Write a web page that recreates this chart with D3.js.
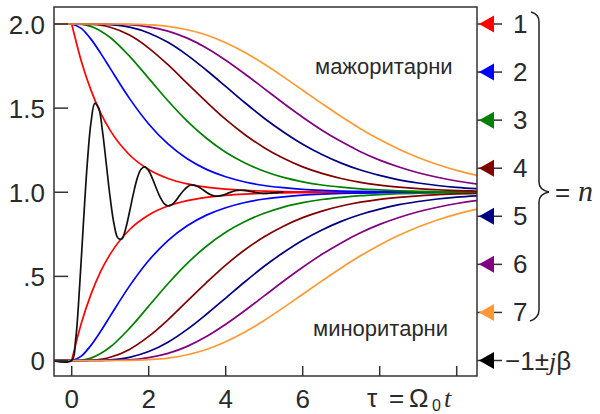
<!DOCTYPE html>
<html lang="bg">
<head>
<meta charset="UTF-8">
<title>majorants</title>
<script src="https://d3js.org/d3.v7.min.js"></script>
<style>
  body { margin: 0; background: white; }
  svg { display: block; font-family: "Liberation Sans", Arial, sans-serif; }
  .curve { fill: none; stroke-width: 1.7px; stroke-linejoin: round; }
  .frame { fill: none; stroke: #333; stroke-width: 1.5px; }
  .tick { stroke: #333; stroke-width: 1.5px; }
  .lbl { fill: #2a2a2a; font-size: 26px; }
  .word { fill: #2a2a2a; font-size: 22px; }
  .it { font-family: "Liberation Serif", "Times New Roman", serif; font-style: italic; }
</style>
</head>
<body>
<svg id="svg" width="600" height="414"></svg>
<script>
// distance of each majorant from 1 (minorant = 1 - value)
const tau = [0, 0.25, 0.5, 0.75, 1, 1.5, 2, 2.5, 3, 3.5, 4, 4.5, 5, 5.5, 6, 6.5, 7, 7.5, 8, 8.5, 9, 9.5, 10, 10.5, 11];
const dev1 = [1, .779, .607, .472, .368, .223, .135, .082, .050, .030, .018, .011, .007, .004, .0025, .0015, .0009, .0006, .0003, .0002, .0001, .0001, 0, 0, 0];
const dev2 = [1, .974, .910, .827, .736, .558, .406, .287, .199, .136, .092, .061, .040, .027, .017, .011, .007, .005, .003, .002, .001, .001, .0005, .0003, .0002];
const dev3 = [1, .998, .986, .959, .920, .809, .677, .544, .423, .321, .238, .174, .125, .088, .062, .043, .030, .020, .014, .009, .006, .004, .003, .002, .001];
const dev4 = [1, 1, .998, .993, .981, .934, .857, .758, .647, .537, .433, .342, .265, .202, .151, .112, .082, .059, .042, .030, .021, .015, .010, .007, .005];
const dev5 = [1, 1, 1, .999, .996, .981, .947, .891, .815, .725, .629, .532, .440, .358, .285, .224, .173, .132, .100, .074, .055, .040, .029, .021, .015];
const dev6 = [1, 1, 1, 1, .999, .996, .983, .958, .916, .858, .785, .703, .616, .529, .446, .369, .301, .241, .191, .150, .116, .089, .067, .050, .038];
const dev7 = [1, 1, 1, 1, 1, .999, .995, .986, .966, .935, .889, .831, .762, .686, .606, .527, .450, .378, .313, .256, .207, .165, .130, .102, .079];
const devs = [dev1, dev2, dev3, dev4, dev5, dev6, dev7];
const colors = ["#ff0000", "#0000ff", "#008000", "#800000", "#000080", "#800080", "#ff9933"];
const legendLabels = ["1", "2", "3", "4", "5", "6", "7"];

// step response for poles -1 ± jβ
const tauB = [-0.5, 0, 0.1, 0.2, 0.3, 0.4, 0.5, 0.6, 0.7, 0.8, 0.9, 1.0, 1.1, 1.2, 1.3, 1.4, 1.5, 1.6, 1.7, 1.8, 1.9, 2.0,
  2.1, 2.2, 2.3, 2.4, 2.5, 2.6, 2.7, 2.8, 2.9, 3.0, 3.1, 3.2, 3.3, 3.4, 3.5, 3.6, 3.7, 3.8, 3.9, 4.0,
  4.1, 4.2, 4.3, 4.4, 4.5, 4.6, 4.7, 4.8, 4.9, 5.0, 5.1, 5.2, 5.3, 5.4, 5.5];
const respB = [0, 0, .119, .420, .800, 1.157, 1.413, 1.528, 1.500, 1.362, 1.165, .966, .811, .728, .722, .782, .881, .989, 1.081, 1.137, 1.151, 1.128,
  1.080, 1.022, .969, .933, .919, .926, .949, .980, 1.009, 1.031, 1.043, 1.041, 1.031, 1.016, 1.000, .986, .978, .977, .981, .989,
  .998, 1.006, 1.011, 1.012, 1.011, 1.007, 1.002, .998, .995, .993, .994, .996, .998, 1.000, 1.002];

const xTicks = [0, 2, 4, 6, 8, 10];
const xTickLabels = ["0", "2", "4", "6"];
const yTicks = [0, 0.5, 1, 1.5, 2];
const yTickLabels = ["0", ".5", "1.0", "1.5", "2.0"];

const svg = d3.select("#svg");
const x = d3.scaleLinear().domain([0, 10]).range([71.7, 456.7]);
const y = d3.scaleLinear().domain([0, 2]).range([360.5, 24]);
const boxL = 54, boxR = 477, boxT = 7, boxB = 376;

svg.append("clipPath").attr("id", "clip")
  .append("rect").attr("x", boxL).attr("y", boxT).attr("width", boxR - boxL).attr("height", boxB - boxT);

const plot = svg.append("g").attr("clip-path", "url(#clip)");
const line = d3.line().curve(d3.curveMonotoneX);

devs.forEach(function(d, i) {
  // before the step every curve sits at 2 (upper) or 0 (lower)
  const up = line(tau.map((t, k) => [x(t), y(1 + d[k])])).replace("M", `M${x(-0.5)},${y(2)}L`);
  const lo = line(tau.map((t, k) => [x(t), y(1 - d[k])])).replace("M", `M${x(-0.5)},${y(0)}L`);
  plot.append("path").attr("class", "curve").attr("stroke", colors[i]).attr("d", up);
  plot.append("path").attr("class", "curve").attr("stroke", colors[i]).attr("d", lo);
});

plot.append("path").attr("class", "curve").attr("stroke", "#111")
  .attr("d", d3.line().curve(d3.curveCatmullRom)(tauB.map((t, k) => [x(t), y(respB[k])])));

// frame and ticks
svg.append("rect").attr("class", "frame")
  .attr("x", boxL).attr("y", boxT).attr("width", boxR - boxL).attr("height", boxB - boxT);

svg.selectAll(".ytick").data(yTicks).join("line").attr("class", "tick")
  .attr("x1", boxL).attr("x2", boxL + 14).attr("y1", d => y(d)).attr("y2", d => y(d));
svg.selectAll(".ylab").data(yTicks).join("text").attr("class", "lbl")
  .attr("x", 45).attr("y", d => y(d) + 9.5).attr("text-anchor", "end")
  .text((d, i) => yTickLabels[i]);

svg.selectAll(".xtick").data(xTicks).join("line").attr("class", "tick")
  .attr("x1", d => x(d)).attr("x2", d => x(d)).attr("y1", boxB).attr("y2", boxB - 10);
svg.selectAll(".xlab").data(xTickLabels).join("text").attr("class", "lbl")
  .attr("x", (d, i) => x(xTicks[i])).attr("y", 408).attr("text-anchor", "middle")
  .text(d => d);

// axis title τ = Ω0 t
const title = svg.append("g").attr("class", "lbl");
title.append("text").attr("x", 367).attr("y", 407).text("τ");
title.append("text").attr("x", 389).attr("y", 407).text("=");
title.append("text").attr("x", 409).attr("y", 407).text("Ω");
title.append("text").attr("x", 432).attr("y", 411).style("font-size", "16px").text("0");
title.append("text").attr("class", "it").attr("x", 444).attr("y", 407).text("t");

svg.append("text").attr("class", "word").attr("x", 315).attr("y", 73.5).text("мажоритарни");
svg.append("text").attr("class", "word").attr("x", 313).attr("y", 336).text("миноритарни");

// legend markers on the right edge
const legY = d3.range(8).map(k => y(2 - k * 2 / 7));
const legColors = colors.concat(["#000"]);
const leg = svg.append("g");
legY.forEach(function(ly, k) {
  leg.append("line").attr("class", "tick").attr("x1", boxR).attr("x2", 502).attr("y1", ly).attr("y2", ly);
  leg.append("path").attr("fill", legColors[k])
    .attr("d", `M${boxR + 2},${ly}L494,${ly - 8.5}L494,${ly + 8.5}Z`);
  if (k < 7) {
    leg.append("text").attr("class", "lbl").attr("x", 513).attr("y", ly + 9).text(legendLabels[k]);
  }
});
const pole = leg.append("text").attr("class", "lbl").attr("x", 505).attr("y", legY[7] + 9);
pole.append("tspan").text("−1±");
pole.append("tspan").attr("class", "it").text("j");
pole.append("tspan").text("β");

// brace = n
svg.append("path").attr("fill", "none").attr("stroke", "#222").attr("stroke-width", 1.5)
  .attr("d", "M531,12Q539,14 539,22V182Q539,190 549,192Q539,194 539,202V310Q539,318 530,321");
svg.append("text").attr("class", "lbl").attr("x", 555).attr("y", 201).text("=");
svg.append("text").attr("class", "lbl it").attr("x", 578).attr("y", 201).style("font-size", "30px").text("n");
</script>
</body>
</html>
